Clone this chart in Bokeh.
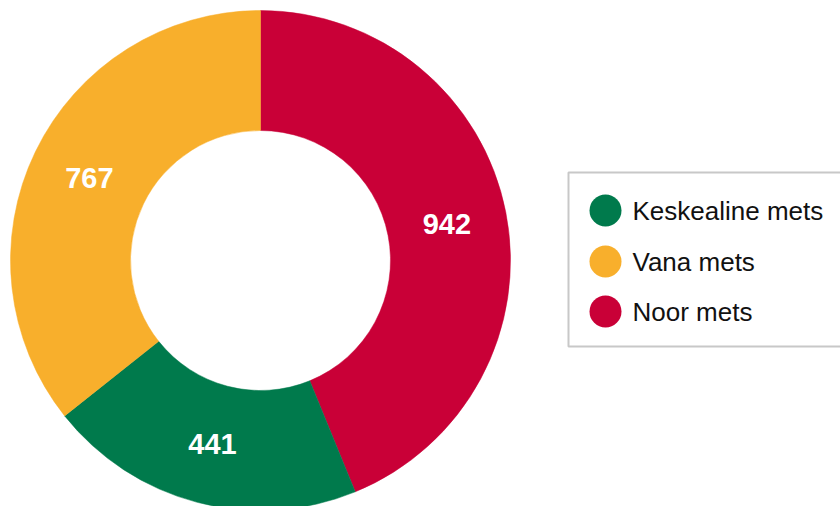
import math
from bokeh.plotting import figure
from bokeh.models import Range1d, ColumnDataSource
from bokeh.core.properties import value
from bokeh.embed import file_html
from bokeh.resources import INLINE

categories = ["Keskealine mets", "Vana mets", "Noor mets"]
values = [441, 767, 942]
colors = ["#007A4C", "#F8AF2C", "#C90037"]
draw_order = [2, 0, 1]  # clockwise from 12 o'clock: Noor, Keskealine, Vana

W, H = 840, 506
cx, cy = 260, H - 260
r_in, r_out = 130, 250

p = figure(width=W, height=H, output_backend="svg", toolbar_location=None,
           x_range=Range1d(0, W), y_range=Range1d(0, H), min_border=0)
p.axis.visible = False
p.grid.visible = False
p.outline_line_color = None
p.background_fill_color = "white"
p.border_fill_color = "white"

total = sum(values)
starts, ends, cols, lx, ly, labels = [], [], [], [], [], []
a = math.pi / 2
for i in draw_order:
    span = 2 * math.pi * values[i] / total
    starts.append(a)
    ends.append(a - span)
    cols.append(colors[i])
    mid = a - span / 2
    rm = (r_in + r_out) / 2
    lx.append(cx + rm * math.cos(mid))
    ly.append(cy + rm * math.sin(mid))
    labels.append(str(values[i]))
    a -= span

src = ColumnDataSource(dict(s=starts, e=ends, c=cols, lx=lx, ly=ly, t=labels))
p.annular_wedge(x=cx, y=cy, inner_radius=r_in, outer_radius=r_out,
                start_angle="s", end_angle="e", direction="clock",
                fill_color="c", line_color="c", line_width=0.5, source=src)
p.text(x="lx", y="ly", text="t", source=src, text_color="white",
       text_font=value("Liberation Sans"), text_font_style="bold",
       text_font_size="29px", text_align="center", text_baseline="middle")

# Legend (box, markers, labels)
box_left, box_top, box_bottom = 568, H - 172, H - 346
p.quad(left=box_left, right=W + 5, top=box_top, bottom=box_bottom,
       fill_color="white", line_color="#C8C8C8", line_width=2)
row_y = [H - 210, H - 261, H - 311]
p.scatter(x=[605] * 3, y=row_y, size=32, marker="circle",
          fill_color=colors, line_color=None)
p.text(x=[632] * 3, y=row_y, text=categories, text_color="#111111",
       text_font=value("Liberation Sans"), text_font_size="26px",
       text_align="left", text_baseline="middle")

open("out.html", "w").write(file_html(p, INLINE))
